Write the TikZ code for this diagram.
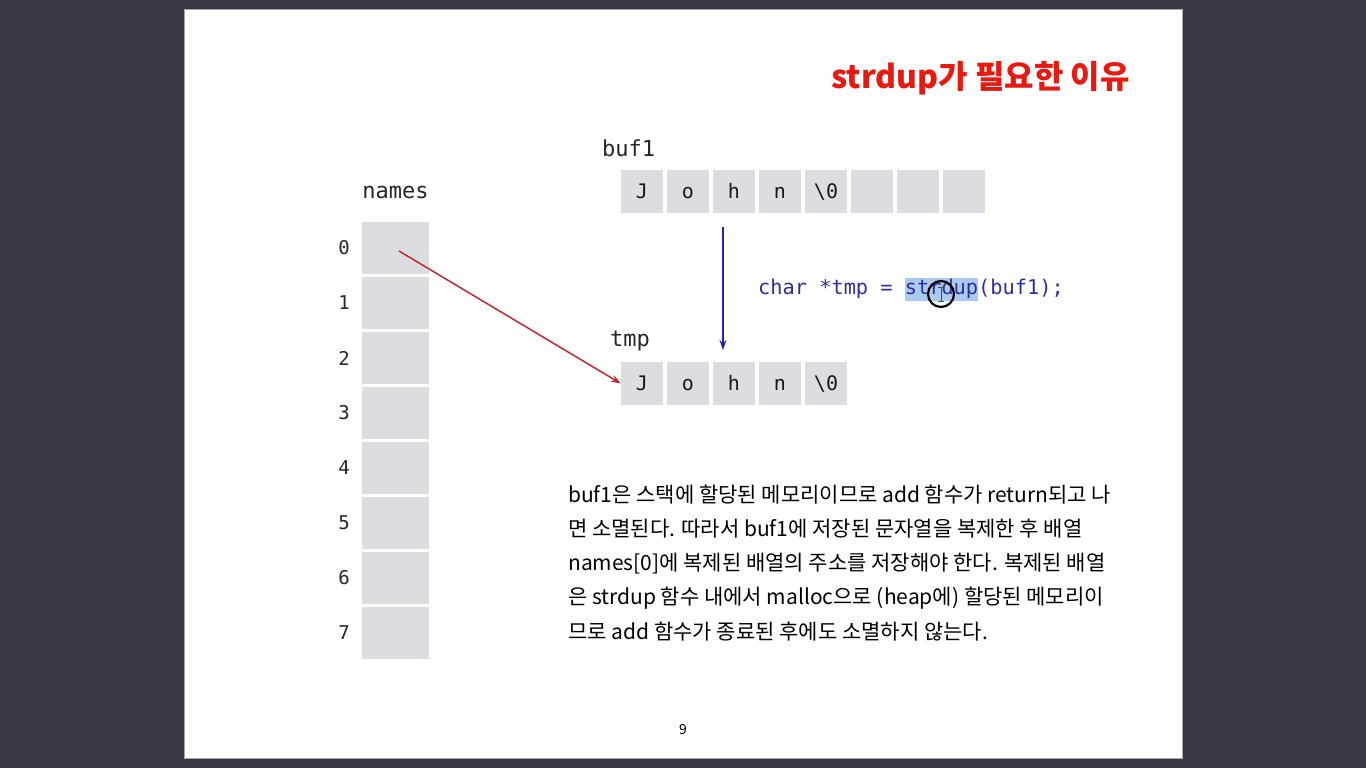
\documentclass[tikz,border=0pt]{standalone}
\usepackage{fontspec}
\usetikzlibrary{arrows.meta}
\newfontfamily\kr{Noto Sans CJK KR}
\newfontfamily\codefont{DejaVu Sans Mono}
\definecolor{bgdark}{HTML}{393943}
\definecolor{cellgray}{HTML}{DCDDE1}
\definecolor{titlered}{HTML}{E8190F}
\definecolor{codeblue}{HTML}{2E2E9E}
\definecolor{arrred}{HTML}{C0282A}
\definecolor{arrblue}{HTML}{2222B8}
\definecolor{selblue}{HTML}{A9CBF2}
\tikzset{
  ncell/.style={fill=cellgray, minimum width=67pt, minimum height=52pt, inner sep=0pt},
  ccell/.style={fill=cellgray, minimum width=42pt, minimum height=43pt, inner sep=0pt,
                text height=14pt, text depth=0pt,
                font=\codefont\fontsize{20}{20}\selectfont, text=black!90},
  idx/.style={font=\codefont\fontsize{19}{19}\selectfont, text=black!85},
  varname/.style={font=\codefont\fontsize{22}{22}\selectfont, text=black!85, inner sep=0pt},
  para/.style={font=\kr\fontsize{21}{21}\selectfont, text=black, anchor=base west, inner sep=0pt},
  redarrow/.style={draw=arrred, line width=1.5pt, -{Stealth[length=10pt,width=7pt]}},
  bluearrow/.style={draw=arrblue, line width=1.4pt, -{Stealth[length=10pt,width=7pt]}}
}
\begin{document}
\begin{tikzpicture}[x=1pt,y=-1pt]
\useasboundingbox (0,0) rectangle (1366,768);
% backdrop and slide
\fill[bgdark] (0,0) rectangle (1366,768);
\filldraw[fill=white, draw=gray!70, line width=1pt] (184,10) rectangle (1182,758);

% title
\node[anchor=east, inner sep=0pt, text=titlered, font=\kr\bfseries\fontsize{32}{32}\selectfont]
  (title) at (1130,78) {strdup가 필요한 이유};

% names array
\node[varname] (namesLbl) at (395.5,192) {names};
\foreach \i in {0,...,7}{
  \node[ncell] (n\i) at (395.5,{248+55*\i}) {};
  \node[idx] (l\i) at (344,{248+55*\i}) {\i};
}

% buf1 array
\node[varname, anchor=west] (bufLbl) at (602,148) {buf1};
\foreach \ch [count=\k from 0] in {J,o,h,n,\textbackslash 0,,,}{
  \node[ccell] (b\k) at ({642+46*\k},191.5) {\ch};
}

% tmp array
\node[varname, anchor=west] (tmpLbl) at (610,341) {tmp};
\foreach \ch [count=\k from 0] in {J,o,h,n,\textbackslash 0}{
  \node[ccell] (t\k) at ({642+46*\k},383.5) {\ch};
}

% code line with selected word and cursor ring
\fill[selblue] (905,278) rectangle (978,301);
\node[anchor=mid west, inner sep=0pt, text=codeblue, font=\codefont\fontsize{20.3}{20.3}\selectfont]
  (code) at (758,292) {char *tmp = strdup(buf1);};
\draw[black, line width=2.2pt] (941,294) circle (13pt);
\draw[gray!60!black, line width=0.8pt] (941,287) -- (941,301) (938,287) -- (944,287) (938,301) -- (944,301);

% connectors
\coordinate (p0) at (399,251);
\coordinate (bsrc) at (723,227);
\coordinate (tdst) at (723,350);
\draw[redarrow] (p0) -- (t0.west);
\draw[bluearrow] (bsrc) -- (tdst);

% explanation
\node[para] (s1) at (568,502) {buf1은 스택에 할당된 메모리이므로 add 함수가 return되고 나};
\node[para] (s2) at (568,536.3) {면 소멸된다. 따라서 buf1에 저장된 문자열을 복제한 후 배열};
\node[para] (s3) at (568,570.6) {names[0]에 복제된 배열의 주소를 저장해야 한다. 복제된 배열};
\node[para] (s4) at (568,604.9) {은 strdup 함수 내에서 malloc으로 (heap에) 할당된 메모리이};
\node[para] (s5) at (568,639.2) {므로 add 함수가 종료된 후에도 소멸하지 않는다.};

% page number
\node[font=\kr\fontsize{14}{14}\selectfont] (pg) at (683,730) {9};
\end{tikzpicture}
\end{document}
